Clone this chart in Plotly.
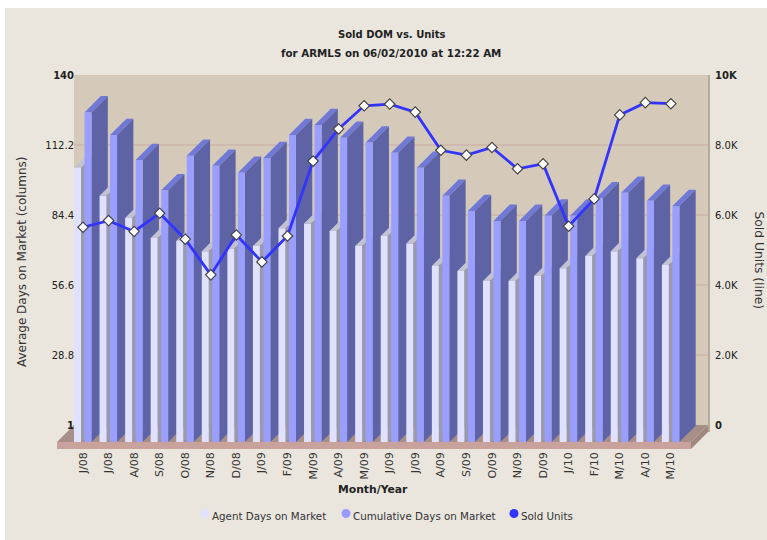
import plotly.graph_objects as go

months = ["J/08","J/08","A/08","S/08","O/08","N/08","D/08","J/09","F/09","M/09","A/09","M/09",
          "J/09","J/09","A/09","S/09","O/09","N/09","D/09","J/10","F/10","M/10","A/10","M/10"]
agent_dom = [109.9,98.8,90,82,80.8,76.8,77.8,78.8,85.9,87.8,84.8,78.8,
             82.8,79.8,70.9,68.9,64.9,64.9,66.9,70,74.9,76.8,74,71.3]
cumulative_dom = [131.9,122.9,113,101,114.7,110.7,107.9,113.8,122.9,126.9,121.8,119.9,
                  115.9,109.9,98.8,92.7,88.8,88.8,90.9,90.9,97.8,100,96.8,94.7]
sold_units = [5650,5840,5530,6050,5310,4290,5430,4660,5400,7540,8460,9120,
              9170,8940,7850,7710,7930,7320,7460,5680,6460,8860,9210,9180]
left_ticks = [1,28.8,56.6,84.4,112.2,140]
left_labels = ["<b>1</b>","28.8","56.6","84.4","112.2","<b>140</b>"]
right_ticks = [0,2000,4000,6000,8000,10000]
right_labels = ["<b>0</b>","2.0K","4.0K","6.0K","8.0K","<b>10K</b>"]
legend_names = ["Agent Days on Market","Cumulative Days on Market","Sold Units"]

W, H = 767, 540
L, R, T, B = 57, 708, 75, 449     # plot rectangle in pixels
STEP = 25.56                      # pixels per category
X0 = 83                           # pixel of first category
PX_UNIT = 350 / 139               # pixels per left-axis unit
FLOOR_D = 17                      # depth of floor in pixels
BAR_D = 16.3                      # depth of bars in pixels

def xu(px):
    return (px - X0) / STEP
def yu(px):                       # pixel row -> left-axis value
    return 140 - (px - T) / PX_UNIT
def px_w(dx):
    return dx / STEP
def px_h(dy):
    return dy / PX_UNIT
def pap_x(px):
    return (px - L) / (R - L)
def pap_y(py):
    return (B - py) / (B - T)

BG = "#EAE6DE"
WALL = "#D5CABA"
GRID = "#CDB4A9"
FLOOR = "#A78F87"
STRIP = "#C9A39B"
FLOOR_SIDE = "#A0877D"
AG_FRONT, AG_SIDE, AG_TOP = "#E0E0FF", "#9A9AAA", "#C2C2D2"
CU_FRONT, CU_SIDE, CU_TOP = "#9A9FFF", "#5E63A6", "#7079D8"
LINE = "#3333FF"
TEXT = "#333333"
FONT = "DejaVu Sans"

fig = go.Figure()
base = yu(425 + FLOOR_D)
dxu, dyu = px_w(BAR_D), px_h(BAR_D)

def poly(xs, ys, color, name):
    fig.add_trace(go.Scatter(x=xs + xs[:1], y=ys + ys[:1], mode="lines", fill="toself",
                             fillcolor=color, line=dict(width=0, color=color), name=name,
                             hoverinfo="skip", showlegend=False))

def bar3d(i, value, off0, off1, front, side, top, name):
    x0, x1 = i + px_w(off0), i + px_w(off1)
    y = value - px_h(FLOOR_D)
    poly([x0, x1, x1 + dxu, x0 + dxu], [y, y, y + dyu, y + dyu], top, name)
    poly([x1, x1 + dxu, x1 + dxu, x1], [y, y + dyu, base + dyu, base], side, name)
    poly([x0, x1, x1, x0], [base, base, y, y], front, name)

for i in range(len(months)):
    bar3d(i, agent_dom[i], -9, -2, AG_FRONT, AG_SIDE, AG_TOP, legend_names[0])
    bar3d(i, cumulative_dom[i], 1.5, 8.5, CU_FRONT, CU_SIDE, CU_TOP, legend_names[1])

fig.add_trace(go.Scatter(x=list(range(len(months))), y=sold_units, yaxis="y2", mode="lines+markers",
                         name=legend_names[2], showlegend=False,
                         line=dict(color=LINE, width=2.8),
                         marker=dict(symbol="diamond", size=8, color="white",
                                     line=dict(color="#444444", width=1.2))))

shapes = []
def sh_poly(pts, color):
    path = "M " + " L ".join(f"{xu(a):.4f},{yu(b):.4f}" for a, b in pts) + " Z"
    shapes.append(dict(type="path", path=path, xref="x", yref="y", fillcolor=color,
                       line=dict(width=0), layer="below"))

sh_poly([(74, T), (R, T), (R, 425), (74, 425)], WALL)
for v in left_ticks[1:-1]:
    shapes.append(dict(type="line", x0=xu(74), x1=xu(R), y0=v, y1=v, xref="x", yref="y",
                       line=dict(color=GRID, width=1.5), layer="below"))
sh_poly([(L, 442), (74, 425), (R, 425), (R - FLOOR_D, 442)], FLOOR)
sh_poly([(L, 442), (R - FLOOR_D, 442), (R - FLOOR_D, B), (L, B)], STRIP)
sh_poly([(R - FLOOR_D, 442), (R, 425), (R, 432), (R - FLOOR_D, B)], FLOOR_SIDE)
# white page margin around the beige panel
shapes.append(dict(type="rect", xref="paper", yref="paper", x0=pap_x(0), x1=pap_x(W), y0=pap_y(8), y1=pap_y(0),
                   fillcolor="white", line=dict(width=0), layer="below"))
shapes.append(dict(type="rect", xref="paper", yref="paper", x0=pap_x(0), x1=pap_x(5), y0=pap_y(H), y1=pap_y(0),
                   fillcolor="white", line=dict(width=0), layer="below"))
# wall edge on the right, just outside the plot rectangle
shapes.append(dict(type="line", xref="paper", yref="paper", x0=pap_x(R + 1), x1=pap_x(R + 1), y0=pap_y(T), y1=pap_y(432),
                   line=dict(color="#B3AB9E", width=2), layer="above"))

def note(text, px, py, size=10, angle=0, bold=False, color=TEXT, anchor="center"):
    return dict(text=f"<b>{text}</b>" if bold else text, x=pap_x(px), y=pap_y(py), xref="paper", yref="paper",
                showarrow=False, textangle=angle, xanchor=anchor, yanchor="middle",
                font=dict(family=FONT, size=size, color=color))

annotations = [
    note("Sold DOM vs. Units", 392, 34, 10, bold=True, color="#222222"),
    note("for ARMLS on 06/02/2010 at 12:22 AM", 391, 53, 10.3, bold=True, color="#222222"),
    note("Month/Year", 372.5, 489, 10.8, bold=True, color="#222222"),
    note("Average Days on Market (columns)", 22, 262, 12, angle=-90),
    note("Sold Units (line)", 759, 260.5, 12.3, angle=90),
]

# legend row: dot plus label
for nm, col, dot, txt in zip(legend_names, [AG_FRONT, "#9999FF", LINE], [205, 346, 514], [210, 351, 518.5]):
    shapes.append(dict(type="circle", xref="paper", yref="paper", x0=pap_x(dot - 4.5), x1=pap_x(dot + 4.5),
                       y0=pap_y(513.5 + 4.5), y1=pap_y(513.5 - 4.5), fillcolor=col, line=dict(width=0)))
    annotations.append(note(nm, txt, 516, 10.3, anchor="left"))

tickfont = dict(family=FONT, size=10, color="#222222")
fig.update_layout(
    width=W, height=H, autosize=False,
    margin=dict(l=L, r=W - R, t=T, b=H - B, pad=0),
    paper_bgcolor=BG, plot_bgcolor=BG,
    font=dict(family=FONT, size=10, color=TEXT),
    shapes=shapes, annotations=annotations,
    showlegend=False,
    xaxis=dict(range=[xu(L), xu(R)], tickmode="array", tickvals=list(range(len(months))), ticktext=months,
               tickangle=-90, showgrid=False, zeroline=False, showline=False, ticks="",
               tickfont=dict(family=FONT, size=11, color=TEXT), fixedrange=True),
    yaxis=dict(range=[yu(B), 140], tickmode="array", tickvals=left_ticks, ticktext=left_labels,
               anchor="free", position=pap_x(74), showgrid=False, zeroline=False, showline=False,
               ticks="", tickfont=tickfont, fixedrange=True),
    yaxis2=dict(range=[(425 - B) / 350 * 10000, 10000], tickmode="array", tickvals=right_ticks, ticktext=right_labels,
                overlaying="y", side="right", showgrid=False, zeroline=False, showline=False,
                ticks="outside", ticklen=4, tickcolor="rgba(0,0,0,0)", tickfont=tickfont, fixedrange=True),
)
fig.write_html("out.html", config=dict(displayModeBar=False),
               post_script="document.documentElement.style.overflow='hidden';document.body.style.margin='0';")
